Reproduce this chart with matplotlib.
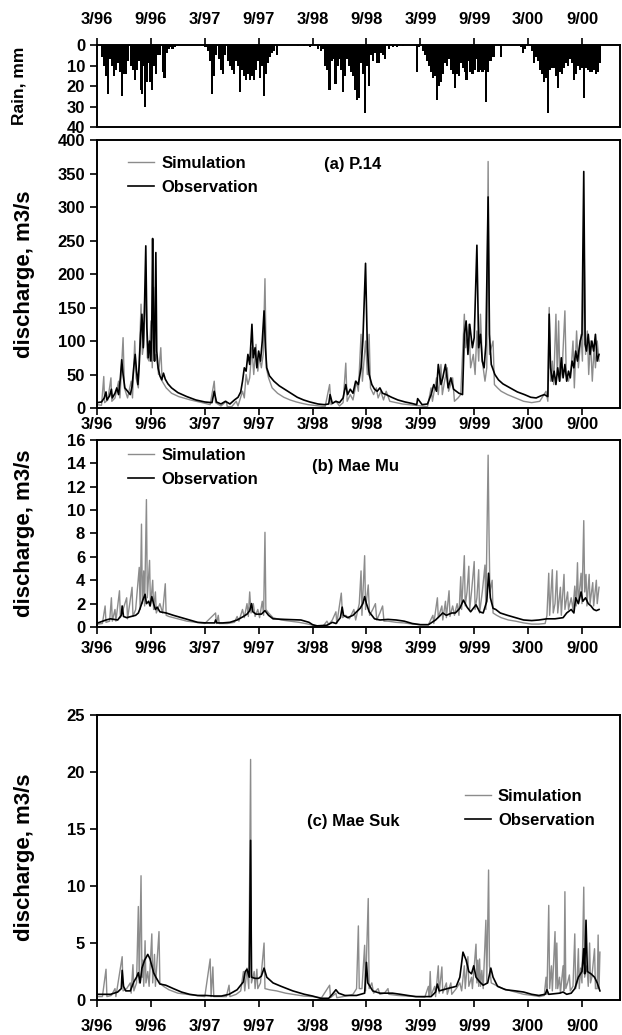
"""
Rainfall and daily discharge (simulated vs observed) for P.14, Mae Mu and Mae Suk,
March 1996 - October 2000. Time is in months counted from 1 March 1996.
"""

import numpy as np
import matplotlib
matplotlib.use('Agg')
import matplotlib.pyplot as plt

plt.rcParams['font.family'] = ['Liberation Sans', 'DejaVu Sans']
plt.rcParams['font.weight'] = 'bold'
plt.rcParams['axes.linewidth'] = 1.4

# x axis (months since 3/96)
tick_months = [0, 6, 12, 18, 24, 30, 36, 42, 48, 54]
tick_labels = ['3/96', '9/96', '3/97', '9/97', '3/98', '9/98', '3/99', '9/99', '3/00', '9/00']

# rainfall bars (month, mm)
rain = [
    (0.58, 6), (0.75, 10), (1.02, 15), (1.19, 24), (1.46, 7), (1.68, 10), (1.90, 15), (2.12, 12),
    (2.35, 9), (2.57, 13), (2.79, 25), (3.01, 14), (3.23, 14), (3.45, 8), (3.76, 10), (3.98, 12),
    (4.20, 17), (4.42, 12), (4.65, 8), (4.87, 22), (5.00, 24), (5.18, 10), (5.35, 30), (5.53, 18),
    (5.71, 9), (5.88, 18), (6.11, 22), (6.33, 10), (6.55, 14), (6.77, 5), (6.99, 5), (7.30, 13),
    (7.52, 16), (7.74, 4), (7.96, 2), (8.19, 1), (8.41, 2), (8.63, 1),
    (12.08, 1), (12.35, 3), (12.61, 8), (12.83, 24), (13.05, 15), (13.27, 5), (13.58, 7), (13.85, 12),
    (14.07, 14), (14.29, 5), (14.60, 8), (14.82, 10), (15.04, 12), (15.27, 14), (15.49, 8), (15.71, 10),
    (15.93, 23), (16.15, 12), (16.37, 15), (16.59, 17), (16.81, 14), (17.04, 17), (17.26, 15), (17.48, 17),
    (17.70, 12), (17.92, 8), (18.14, 16), (18.36, 10), (18.58, 25), (18.81, 14), (19.03, 9), (19.25, 6),
    (19.47, 4), (19.69, 3), (20.00, 5),
    (22.35, 0.5), (23.01, 0.5), (23.67, 1), (24.56, 2), (24.91, 3), (25.22, 2), (25.44, 10), (25.66, 12),
    (25.88, 22), (26.11, 8), (26.33, 7), (26.55, 19), (26.77, 10), (26.99, 7), (27.21, 12), (27.43, 23),
    (27.65, 15), (27.88, 7), (28.10, 10), (28.32, 13), (28.54, 15), (28.76, 22), (28.98, 27), (29.20, 26),
    (29.42, 9), (29.65, 14), (29.87, 33), (30.09, 10), (30.31, 20), (30.53, 5), (30.75, 8), (30.97, 4),
    (31.19, 9), (31.42, 9), (31.64, 4), (31.86, 5), (32.08, 7), (32.52, 2), (32.96, 1), (33.41, 1),
    (34.07, 0.5),
    (35.62, 13), (35.84, 1), (36.28, 3), (36.50, 5), (36.73, 8), (36.95, 10), (37.17, 13), (37.39, 16),
    (37.61, 15), (37.83, 27), (38.05, 20), (38.27, 18), (38.50, 14), (38.72, 9), (38.94, 10), (39.16, 7),
    (39.38, 12), (39.60, 14), (39.82, 21), (40.04, 14), (40.27, 15), (40.49, 9), (40.71, 11), (40.93, 13),
    (41.15, 17), (41.37, 8), (41.59, 13), (41.81, 14), (42.04, 12), (42.26, 7), (42.48, 13), (42.70, 12),
    (42.92, 13), (43.14, 12), (43.36, 28), (43.58, 13), (43.81, 8), (44.03, 6), (44.25, 6), (45.00, 6),
    (47.26, 1), (47.48, 4), (47.65, 2), (48.45, 3), (48.67, 9), (48.89, 6), (49.12, 8), (49.34, 12),
    (49.56, 14), (49.78, 18), (50.00, 16), (50.22, 33), (50.44, 12), (50.66, 11), (50.88, 11), (51.11, 15),
    (51.33, 21), (51.55, 13), (51.77, 14), (51.99, 11), (52.21, 9), (52.43, 10), (52.65, 7), (52.88, 9),
    (53.10, 17), (53.32, 14), (53.54, 10), (53.76, 12), (53.98, 11), (54.20, 26), (54.42, 11), (54.65, 12),
    (54.87, 13), (55.09, 13), (55.31, 12), (55.53, 14), (55.75, 13), (55.97, 9),
]

# (a) P.14 discharge, m3/s (month, value)
p14_obs = [
    (0.0, 8), (0.5, 9), (0.8, 15), (1.0, 24), (1.1, 12), (1.4, 18), (1.6, 28), (1.7, 15), (2.0, 22),
    (2.2, 30), (2.4, 20), (2.6, 45), (2.75, 72), (2.9, 50), (3.1, 30), (3.4, 25), (3.7, 20), (3.9, 32),
    (4.1, 62), (4.25, 80), (4.4, 55), (4.55, 35), (4.7, 65), (4.85, 110), (5.0, 140), (5.15, 90),
    (5.3, 160), (5.43, 242), (5.55, 120), (5.7, 75), (5.85, 100), (6.0, 70), (6.1, 130), (6.19, 253),
    (6.3, 105), (6.4, 70), (6.55, 232), (6.65, 85), (6.8, 60), (7.0, 48), (7.2, 42), (7.4, 52),
    (7.6, 43), (7.9, 36), (8.3, 30), (9.0, 23), (10.0, 17), (11.0, 12), (12.0, 9), (12.8, 8),
    (13.05, 25), (13.3, 9), (13.8, 6), (14.3, 10), (14.8, 6), (15.3, 12), (15.7, 16), (16.0, 24),
    (16.2, 40), (16.4, 60), (16.6, 55), (16.8, 80), (17.0, 65), (17.25, 125), (17.4, 75), (17.6, 90),
    (17.8, 60), (18.0, 85), (18.2, 70), (18.4, 100), (18.6, 145), (18.75, 90), (18.9, 60), (19.2, 48),
    (19.7, 40), (20.3, 33), (21.0, 27), (21.7, 21), (22.3, 16), (23.0, 12), (23.7, 9), (24.6, 6),
    (25.3, 5), (25.8, 6), (25.95, 20), (26.2, 7), (26.6, 10), (27.0, 8), (27.4, 15), (27.7, 35),
    (27.9, 20), (28.2, 28), (28.5, 22), (28.8, 40), (29.1, 35), (29.4, 60), (29.6, 100), (29.9, 216),
    (30.1, 90), (30.3, 50), (30.6, 35), (30.9, 28), (31.2, 25), (31.5, 30), (31.8, 22), (32.2, 20),
    (32.8, 16), (33.5, 12), (34.3, 9), (35.0, 7), (35.6, 5), (35.7, 14), (36.2, 5), (36.8, 6),
    (37.2, 20), (37.5, 35), (37.8, 25), (38.0, 65), (38.3, 35), (38.5, 45), (38.8, 65), (39.1, 30),
    (39.4, 45), (39.7, 28), (40.0, 25), (40.3, 22), (40.7, 20), (40.9, 110), (41.1, 130), (41.3, 80),
    (41.5, 125), (41.8, 90), (42.0, 105), (42.3, 243), (42.5, 90), (42.7, 110), (42.9, 70), (43.1, 60),
    (43.3, 95), (43.55, 315), (43.7, 110), (43.9, 65), (44.3, 50), (44.7, 42), (45.2, 36), (46.0, 30),
    (46.8, 24), (47.6, 20), (48.3, 16), (48.9, 15), (49.4, 18), (49.8, 20), (50.2, 17), (50.35, 140),
    (50.5, 60), (50.7, 40), (50.9, 55), (51.1, 35), (51.3, 60), (51.5, 40), (51.7, 75), (51.9, 45),
    (52.1, 65), (52.3, 40), (52.5, 55), (52.7, 45), (52.9, 70), (53.1, 60), (53.3, 85), (53.5, 70),
    (53.8, 100), (54.0, 110), (54.2, 353), (54.35, 95), (54.5, 85), (54.7, 110), (54.9, 80),
    (55.1, 100), (55.3, 85), (55.5, 110), (55.7, 70), (55.9, 80),
]
p14_sim = [
    (0.0, 5), (0.5, 4), (0.75, 47), (0.85, 8), (1.2, 12), (1.55, 45), (1.65, 10), (2.0, 15), (2.4, 40),
    (2.55, 15), (2.9, 105), (3.05, 30), (3.4, 15), (3.8, 40), (3.95, 15), (4.2, 100), (4.35, 45),
    (4.6, 30), (4.9, 155), (5.05, 80), (5.2, 95), (5.45, 180), (5.6, 75), (5.8, 70), (6.0, 130),
    (6.15, 60), (6.3, 180), (6.45, 70), (6.6, 80), (6.85, 50), (7.1, 90), (7.25, 40), (7.7, 30),
    (8.3, 22), (9.1, 17), (10.4, 12), (11.7, 8), (12.6, 5), (13.05, 40), (13.2, 8), (13.8, 3),
    (14.4, 10), (14.5, 2), (15.0, 2), (15.5, 10), (15.7, 3), (16.2, 25), (16.4, 15), (16.6, 50),
    (16.8, 35), (17.0, 45), (17.25, 90), (17.45, 50), (17.7, 95), (17.9, 55), (18.1, 75), (18.3, 60),
    (18.5, 80), (18.7, 193), (18.85, 60), (19.1, 45), (19.5, 30), (20.1, 22), (20.8, 16), (21.5, 12),
    (22.2, 9), (22.8, 7), (23.5, 5), (24.1, 4), (24.8, 3), (25.4, 2), (25.9, 35), (26.05, 5),
    (26.6, 10), (27.0, 3), (27.4, 8), (27.7, 67), (27.85, 10), (28.2, 20), (28.5, 12), (28.9, 40),
    (29.1, 25), (29.4, 110), (29.55, 40), (29.9, 100), (30.1, 50), (30.3, 110), (30.45, 30),
    (30.8, 20), (31.1, 30), (31.3, 15), (31.6, 25), (31.9, 12), (32.2, 25), (32.6, 10), (33.3, 8),
    (34.0, 6), (34.7, 5), (35.4, 4), (36.1, 3), (36.8, 2), (37.2, 30), (37.35, 10), (37.8, 45),
    (38.0, 20), (38.3, 65), (38.45, 20), (38.7, 40), (39.0, 60), (39.15, 25), (39.6, 45), (39.8, 10),
    (40.2, 15), (40.5, 20), (40.9, 140), (41.05, 90), (41.4, 125), (41.6, 60), (41.9, 80), (42.1, 50),
    (42.3, 115), (42.5, 70), (42.7, 140), (42.9, 70), (43.2, 40), (43.4, 60), (43.55, 368), (43.7, 80),
    (44.1, 100), (44.25, 35), (44.6, 30), (45.0, 25), (45.7, 20), (46.6, 15), (47.5, 10), (48.4, 8),
    (49.3, 10), (50.0, 25), (50.2, 10), (50.35, 150), (50.5, 40), (50.7, 70), (50.85, 35), (51.1, 140),
    (51.25, 50), (51.4, 130), (51.55, 40), (51.8, 60), (52.1, 145), (52.25, 50), (52.5, 40), (52.8, 60),
    (53.0, 100), (53.15, 30), (53.4, 115), (53.6, 60), (53.9, 110), (54.05, 70), (54.25, 235),
    (54.4, 80), (54.6, 115), (54.75, 50), (54.95, 100), (55.15, 40), (55.35, 90), (55.5, 60),
    (55.7, 100), (55.9, 70),
]

# (b) Mae Mu discharge, m3/s
maemu_obs = [
    (0.1, 0.35), (1.0, 0.6), (1.5, 0.7), (2.3, 0.6), (2.7, 1.0), (2.8, 1.8), (2.95, 0.9), (3.3, 0.8),
    (3.8, 0.9), (4.3, 1.0), (4.6, 1.2), (4.8, 1.6), (5.1, 2.3), (5.35, 2.8), (5.5, 2.0), (5.75, 2.2),
    (5.9, 1.8), (6.1, 2.6), (6.3, 2.0), (6.5, 1.5), (6.7, 1.7), (7.0, 1.3), (7.7, 1.2), (8.5, 1.0),
    (9.4, 0.8), (10.3, 0.6), (11.2, 0.4), (12.1, 0.35), (13.1, 0.35), (13.2, 0.6), (13.35, 0.35),
    (14.0, 0.35), (14.8, 0.4), (15.2, 0.5), (15.6, 0.6), (16.3, 0.9), (16.7, 1.1), (17.0, 1.4),
    (17.2, 2.0), (17.35, 1.3), (17.7, 1.1), (18.3, 1.1), (18.7, 1.4), (19.1, 1.0), (19.6, 0.7),
    (20.9, 0.65), (22.7, 0.6), (23.6, 0.4), (24.0, 0.2), (24.5, 0.1), (25.6, 0.15), (26.2, 0.4),
    (26.6, 0.3), (27.1, 0.8), (27.3, 1.7), (27.45, 1.0), (27.9, 0.8), (28.5, 1.0), (28.9, 1.3),
    (29.3, 1.6), (29.6, 2.0), (29.8, 2.6), (30.0, 2.0), (30.3, 1.3), (30.9, 0.7), (31.5, 0.6),
    (32.4, 0.65), (33.3, 0.6), (34.2, 0.5), (35.1, 0.3), (36.0, 0.2), (36.9, 0.2), (37.7, 0.6),
    (38.1, 0.9), (38.5, 1.2), (38.9, 1.0), (39.5, 1.2), (39.9, 1.2), (40.4, 1.6), (40.8, 2.3),
    (41.2, 1.7), (41.6, 1.3), (42.2, 1.9), (42.6, 1.3), (43.0, 1.2), (43.4, 2.2), (43.6, 4.6),
    (43.8, 2.5), (44.1, 1.6), (44.4, 1.5), (44.9, 1.2), (45.7, 1.0), (46.6, 0.8), (47.5, 0.6),
    (48.4, 0.55), (49.2, 0.6), (50.1, 0.7), (51.0, 0.7), (51.9, 0.8), (52.3, 1.2), (52.8, 1.5),
    (53.1, 1.2), (53.3, 2.5), (53.6, 2.0), (53.9, 3.0), (54.1, 2.2), (54.4, 2.5), (54.7, 2.0),
    (55.0, 1.8), (55.3, 1.5), (55.6, 1.4), (55.9, 1.5),
]
maemu_sim = [
    (0.1, 0.25), (0.6, 0.3), (0.9, 1.8), (1.0, 0.4), (1.4, 0.5), (1.6, 2.5), (1.7, 0.5), (2.0, 1.5),
    (2.1, 0.5), (2.5, 3.1), (2.6, 0.8), (2.9, 1.5), (3.3, 2.5), (3.4, 0.7), (3.9, 3.4), (4.0, 0.9),
    (4.3, 1.5), (4.7, 5.1), (4.8, 1.5), (4.95, 8.8), (5.05, 2.0), (5.2, 4.8), (5.3, 1.8), (5.5, 10.9),
    (5.6, 2.5), (5.85, 5.7), (5.95, 1.8), (6.2, 4.0), (6.3, 1.5), (6.5, 3.0), (6.6, 1.2), (7.0, 2.0),
    (7.3, 1.2), (7.6, 3.7), (7.7, 1.0), (8.0, 0.9), (9.0, 0.7), (10.0, 0.5), (11.0, 0.4), (12.0, 0.3),
    (13.2, 1.2), (13.3, 0.3), (13.5, 1.0), (13.6, 0.3), (14.5, 0.3), (15.3, 0.4), (15.6, 0.9),
    (15.8, 0.5), (16.2, 1.5), (16.4, 0.8), (16.7, 2.0), (16.85, 0.9), (17.0, 3.0), (17.15, 1.2),
    (17.4, 2.0), (17.6, 0.9), (17.9, 1.5), (18.1, 0.8), (18.4, 2.2), (18.55, 1.0), (18.7, 8.1),
    (18.8, 1.5), (19.1, 1.2), (19.6, 0.8), (20.5, 0.6), (21.5, 0.5), (22.5, 0.4), (23.5, 0.25),
    (24.3, 0.1), (25.2, 0.1), (25.6, 0.5), (25.8, 0.2), (26.2, 0.6), (26.6, 1.3), (26.7, 0.3),
    (27.2, 2.9), (27.35, 0.8), (27.7, 1.0), (28.1, 0.7), (28.6, 1.5), (28.8, 0.6), (29.2, 2.0),
    (29.4, 4.8), (29.5, 1.0), (29.8, 6.1), (29.9, 1.5), (30.2, 3.6), (30.35, 1.0), (30.7, 1.5),
    (31.0, 2.0), (31.15, 0.6), (31.5, 1.2), (31.8, 1.8), (31.95, 0.5), (32.4, 0.5), (33.3, 0.4),
    (34.2, 0.35), (35.1, 0.25), (36.0, 0.2), (36.9, 0.2), (37.4, 1.0), (37.5, 0.3), (37.9, 2.5),
    (38.0, 0.8), (38.4, 1.8), (38.5, 0.6), (38.8, 2.2), (38.9, 0.8), (39.2, 3.1), (39.3, 0.9),
    (39.6, 1.8), (39.8, 1.0), (40.1, 2.0), (40.3, 1.0), (40.5, 4.3), (40.6, 1.5), (40.9, 6.1),
    (41.0, 1.8), (41.2, 3.0), (41.4, 5.2), (41.5, 1.5), (41.7, 3.0), (42.0, 5.6), (42.1, 1.5),
    (42.3, 2.5), (42.5, 4.9), (42.6, 1.2), (42.9, 3.0), (43.2, 5.3), (43.3, 1.5), (43.55, 14.7),
    (43.65, 8.0), (43.75, 3.0), (44.0, 4.0), (44.1, 1.2), (44.5, 1.0), (45.0, 0.8), (45.8, 0.6),
    (46.6, 0.5), (47.5, 0.35), (48.4, 0.25), (49.2, 0.25), (49.9, 0.3), (50.1, 1.0), (50.3, 4.6),
    (50.4, 1.0), (50.7, 4.9), (50.8, 1.2), (51.0, 2.0), (51.2, 4.8), (51.3, 1.2), (51.6, 3.4),
    (51.7, 1.0), (52.0, 4.5), (52.1, 1.5), (52.4, 3.0), (52.5, 1.5), (52.8, 2.5), (53.0, 1.5),
    (53.2, 3.5), (53.35, 1.8), (53.5, 5.5), (53.6, 2.0), (53.9, 4.6), (54.0, 2.0), (54.2, 9.1),
    (54.3, 3.0), (54.45, 4.5), (54.55, 1.8), (54.8, 4.5), (54.9, 2.0), (55.2, 3.8), (55.3, 1.8),
    (55.6, 4.0), (55.7, 2.0), (55.9, 3.4),
]

# (c) Mae Suk discharge, m3/s
maesuk_obs = [
    (0.1, 0.5), (1.5, 0.5), (2.3, 0.7), (2.7, 1.0), (2.8, 2.6), (2.95, 1.2), (3.2, 0.8), (3.7, 0.8),
    (4.1, 1.6), (4.4, 2.0), (4.6, 2.4), (4.8, 1.5), (5.0, 2.8), (5.3, 3.5), (5.65, 4.0), (5.9, 3.6),
    (6.1, 3.0), (6.3, 2.4), (6.55, 2.0), (7.0, 1.4), (7.65, 1.3), (8.5, 1.0), (9.4, 0.7), (10.3, 0.5),
    (11.2, 0.4), (12.1, 0.4), (13.0, 0.35), (13.85, 0.35), (14.7, 0.5), (15.6, 0.9), (16.0, 1.3),
    (16.3, 1.6), (16.5, 2.5), (16.7, 2.7), (16.95, 2.0), (17.1, 14.0), (17.2, 2.0), (17.6, 1.9),
    (18.0, 1.9), (18.3, 2.1), (18.6, 2.8), (18.9, 2.0), (19.6, 1.5), (20.5, 1.2), (21.8, 0.8),
    (23.1, 0.5), (24.0, 0.35), (24.9, 0.15), (25.8, 0.15), (26.2, 0.5), (26.6, 0.9), (26.9, 0.6),
    (27.6, 0.4), (28.9, 0.4), (29.8, 0.6), (30.0, 3.3), (30.15, 1.5), (30.7, 0.8), (31.5, 0.6),
    (32.9, 0.6), (33.8, 0.5), (34.6, 0.4), (35.5, 0.3), (36.4, 0.3), (37.2, 0.3), (37.7, 0.7),
    (37.9, 1.4), (38.1, 0.8), (39.0, 1.0), (40.0, 1.2), (40.4, 2.0), (40.75, 4.2), (41.1, 3.5),
    (41.4, 2.5), (41.7, 2.3), (41.95, 3.0), (42.2, 2.0), (42.6, 1.6), (43.0, 1.3), (43.5, 1.5),
    (43.85, 2.8), (44.1, 2.0), (44.6, 1.2), (45.5, 0.9), (46.6, 0.8), (47.5, 0.7), (48.4, 0.5),
    (49.2, 0.4), (49.9, 0.5), (50.1, 0.9), (50.3, 0.5), (51.5, 0.6), (51.9, 0.7), (52.3, 0.5),
    (52.8, 0.6), (53.2, 1.0), (53.6, 2.0), (54.0, 2.5), (54.2, 4.5), (54.3, 2.3), (54.45, 7.0),
    (54.6, 2.5), (55.0, 2.3), (55.4, 2.0), (55.7, 1.5), (56.0, 0.8),
]
maesuk_sim = [
    (0.1, 0.3), (0.6, 0.3), (1.0, 2.7), (1.1, 0.3), (1.6, 0.4), (2.0, 1.0), (2.1, 0.3), (2.8, 3.8),
    (2.9, 0.8), (3.3, 1.0), (3.7, 1.5), (3.8, 0.6), (4.0, 3.1), (4.1, 0.8), (4.4, 1.5), (4.6, 8.2),
    (4.7, 1.5), (4.9, 10.9), (5.0, 2.0), (5.1, 3.5), (5.2, 1.2), (5.35, 5.2), (5.45, 1.5), (5.65, 2.5),
    (5.8, 1.2), (6.1, 5.8), (6.2, 1.5), (6.4, 4.0), (6.5, 1.2), (6.9, 6.0), (7.0, 1.5), (7.4, 1.2),
    (8.0, 0.9), (9.0, 0.6), (10.0, 0.5), (11.0, 0.4), (12.0, 0.3), (12.6, 3.6), (12.7, 0.3),
    (12.9, 2.9), (13.0, 0.3), (13.8, 0.3), (14.4, 0.3), (14.7, 1.3), (14.8, 0.3), (15.5, 0.5),
    (16.0, 0.8), (16.3, 2.5), (16.45, 0.8), (16.7, 2.8), (16.9, 1.0), (17.1, 21.1), (17.2, 1.5),
    (17.5, 2.5), (17.6, 1.0), (17.8, 2.7), (17.9, 1.0), (18.2, 1.5), (18.6, 5.0), (18.7, 1.0),
    (19.2, 0.9), (20.0, 0.8), (21.0, 0.6), (21.8, 0.5), (23.0, 0.35), (24.0, 0.3), (25.0, 0.2),
    (25.9, 1.3), (26.0, 0.2), (26.6, 0.6), (26.7, 0.2), (27.4, 0.3), (28.0, 0.4), (28.5, 0.5),
    (28.9, 1.0), (29.1, 6.5), (29.2, 1.0), (29.5, 1.0), (29.8, 4.8), (29.9, 0.8), (30.2, 8.9),
    (30.3, 1.0), (30.6, 1.5), (30.8, 0.6), (31.3, 1.0), (31.5, 0.5), (32.0, 0.6), (32.4, 1.0),
    (32.5, 0.5), (33.5, 0.4), (34.5, 0.35), (35.5, 0.3), (36.5, 0.25), (36.9, 1.2), (37.0, 0.3),
    (37.1, 2.5), (37.2, 0.4), (37.6, 1.2), (37.7, 0.3), (38.0, 3.0), (38.1, 0.6), (38.4, 2.9),
    (38.5, 0.6), (38.9, 1.5), (39.0, 0.5), (39.4, 1.5), (39.5, 0.5), (40.0, 1.0), (40.4, 1.5),
    (40.6, 0.8), (40.9, 3.0), (41.0, 1.0), (41.3, 3.8), (41.4, 1.2), (41.7, 2.0), (41.8, 1.0),
    (42.2, 4.9), (42.3, 1.5), (42.4, 3.5), (42.5, 1.2), (42.6, 3.6), (42.7, 1.2), (42.85, 2.6),
    (43.0, 1.0), (43.3, 7.0), (43.4, 1.5), (43.6, 11.4), (43.7, 3.0), (43.9, 1.5), (44.4, 1.3),
    (45.2, 1.0), (46.6, 0.7), (47.5, 0.5), (48.5, 0.4), (49.3, 0.3), (49.8, 0.4), (50.0, 2.0),
    (50.1, 0.5), (50.3, 8.3), (50.4, 1.0), (50.6, 3.0), (50.7, 0.8), (51.0, 6.0), (51.1, 1.0),
    (51.2, 5.0), (51.3, 1.0), (51.5, 2.0), (51.6, 0.6), (51.9, 3.0), (52.0, 0.8), (52.1, 9.5),
    (52.2, 1.0), (52.4, 1.5), (52.6, 2.2), (52.7, 0.8), (53.0, 1.2), (53.2, 5.8), (53.3, 1.0),
    (53.45, 1.5), (53.6, 4.5), (53.7, 1.0), (53.85, 2.8), (54.0, 1.5), (54.2, 9.9), (54.3, 2.0),
    (54.55, 3.0), (54.7, 1.2), (54.85, 5.0), (54.95, 1.5), (55.1, 2.0), (55.4, 4.5), (55.5, 1.0),
    (55.7, 1.0), (55.8, 5.7), (55.9, 1.0), (56.0, 4.2),
]

SIM_COLOR = '#8c8c8c'
OBS_COLOR = 'black'
FS = 12

fig = plt.figure(figsize=(6.22, 10.35), dpi=100)
left, width = 0.156, 0.841


def set_time_axis(ax, top=False, pad=3):
    ax.set_xlim(0, 58.25)
    ax.set_xticks(tick_months)
    ax.set_xticklabels(tick_labels, fontsize=FS, fontweight='bold')
    ax.tick_params(axis='both', direction='out', length=5, width=1.2, labelsize=FS)
    ax.tick_params(axis='x', pad=pad)
    if top:
        ax.xaxis.tick_top()
        ax.xaxis.set_label_position('top')
    for lab in ax.get_yticklabels():
        lab.set_fontweight('bold')


def plot_pair(ax, sim, obs):
    st, sq = np.array(sim).T
    ot, oq = np.array(obs).T
    ax.plot(st, sq, color=SIM_COLOR, lw=1.0, label='Simulation')
    ax.plot(ot, oq, color=OBS_COLOR, lw=1.2, label='Observation')


def discharge_label(ax):
    ax.set_ylabel('discharge, m3/s', fontsize=16, fontweight='bold')
    ax.yaxis.set_label_coords(-0.118, 0.5)


legend_style = dict(frameon=False, fontsize=FS, handlelength=1.6, handletextpad=0.4,
                    labelspacing=0.55, borderaxespad=0)

# Rain panel (inverted bars from the top)
ax_r = fig.add_axes([left, 0.8773, width, 0.0792])
rt, rv = np.array(rain).T
ax_r.bar(rt, rv, width=0.24, color='black', align='center', linewidth=0)
ax_r.set_ylim(40, 0)
ax_r.set_yticks([0, 10, 20, 30, 40])
set_time_axis(ax_r, top=True, pad=8)
ax_r.set_ylabel('Rain, mm', fontsize=12.5, fontweight='bold')
ax_r.yaxis.set_label_coords(-0.135, 0.5)

# (a) P.14
ax_a = fig.add_axes([left, 0.6058, width, 0.2589])
plot_pair(ax_a, p14_sim, p14_obs)
ax_a.set_ylim(0, 400)
ax_a.set_yticks(range(0, 401, 50))
set_time_axis(ax_a, pad=1.5)
discharge_label(ax_a)
ax_a.text(0.488, 0.91, '(a) P.14', transform=ax_a.transAxes, ha='center', va='center',
          fontsize=FS, fontweight='bold')
ax_a.legend(loc='upper left', bbox_to_anchor=(0.046, 0.966), **legend_style)

# (b) Mae Mu
ax_b = fig.add_axes([left, 0.3942, width, 0.1807])
plot_pair(ax_b, maemu_sim, maemu_obs)
ax_b.set_ylim(0, 16)
ax_b.set_yticks(range(0, 17, 2))
set_time_axis(ax_b, pad=5)
discharge_label(ax_b)
ax_b.text(0.494, 0.86, '(b) Mae Mu', transform=ax_b.transAxes, ha='center', va='center',
          fontsize=FS, fontweight='bold')
ax_b.legend(loc='upper left', bbox_to_anchor=(0.046, 0.995), **legend_style)

# (c) Mae Suk
ax_c = fig.add_axes([left, 0.0338, width, 0.2754])
plot_pair(ax_c, maesuk_sim, maesuk_obs)
ax_c.set_ylim(0, 25)
ax_c.set_yticks(range(0, 26, 5))
set_time_axis(ax_c, pad=9)
discharge_label(ax_c)
ax_c.text(0.49, 0.625, '(c) Mae Suk', transform=ax_c.transAxes, ha='center', va='center',
          fontsize=FS, fontweight='bold')
ax_c.legend(loc='upper left', bbox_to_anchor=(0.69, 0.765), **legend_style)

plt.savefig('out.png', dpi=100)
